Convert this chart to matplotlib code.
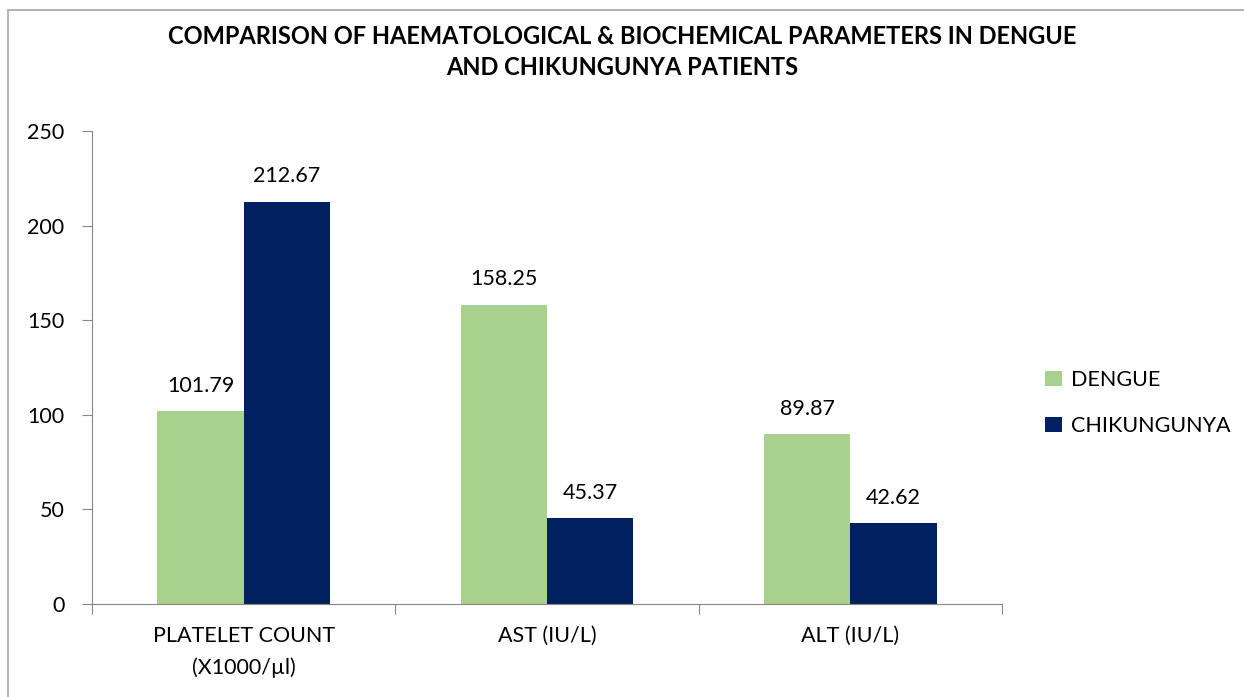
import numpy as np
import matplotlib.pyplot as plt
from matplotlib.patches import Rectangle

# data
categories = ["PLATELET COUNT\n(X1000/µl)", "AST (IU/L)", "ALT (IU/L)"]
dengue = [101.79, 158.25, 89.87]
chik = [212.67, 45.37, 42.62]
series_names = ["DENGUE", "CHIKUNGUNYA"]
yticks = [0, 50, 100, 150, 200, 250]

plt.rcParams['font.family'] = ['Lato', 'DejaVu Sans']

fig = plt.figure(figsize=(12.44, 6.97), dpi=100)
ax = fig.add_axes([0.074, 0.1334, 0.7315, 0.6786])

# chart border
fig.patches.append(Rectangle((8 / 1244, -0.1), 1.2, 1 - 10 / 697 + 0.1,
                             transform=fig.transFigure, fill=False,
                             edgecolor='#a6a6a6', lw=1.2))

x = np.arange(len(categories)) + 0.5
w = 0.285
b1 = ax.bar(x - w / 2, dengue, w, color='#a9d18e', label=series_names[0])
b2 = ax.bar(x + w / 2, chik, w, color='#002060', label=series_names[1])

for bars, vals in [(b1, dengue), (b2, chik)]:
    for r, v in zip(bars, vals):
        ax.annotate(f"{v:.2f}", (r.get_x() + r.get_width() / 2, v),
                    xytext=(0, 11), textcoords='offset points',
                    ha='center', va='bottom', fontsize=15.5)

ax.set_xlim(0, 3)
ax.set_ylim(0, 250)
ax.set_yticks(yticks)
ax.set_xticks([0, 1, 2, 3])
ax.set_xticklabels([])
ax.set_xticks(x, minor=True)
ax.set_xticklabels(categories, minor=True, fontsize=15.5, linespacing=1.65)
ax.tick_params(axis='x', which='minor', length=0, pad=16)
ax.tick_params(axis='x', which='major', length=7, color='#868686')
ax.tick_params(axis='y', length=7, color='#868686', labelsize=15.5, pad=13)
for s in ['top', 'right']:
    ax.spines[s].set_visible(False)
for s in ['left', 'bottom']:
    ax.spines[s].set_color('#868686')

fig.text(0.5, 1 - 52 / 697, "COMPARISON OF HAEMATOLOGICAL & BIOCHEMICAL PARAMETERS IN DENGUE\nAND CHIKUNGUNYA PATIENTS",
         ha='center', va='center', fontsize=17, fontweight='bold', linespacing=1.45)

fig.legend(handles=[b1, b2], loc='center left', bbox_to_anchor=(1026 / 1244, 1 - 403 / 697),
           frameon=False, fontsize=15.5, handlelength=0.75, handleheight=0.75,
           labelspacing=1.2, handletextpad=0.45)

fig.savefig("out.png", dpi=100)
